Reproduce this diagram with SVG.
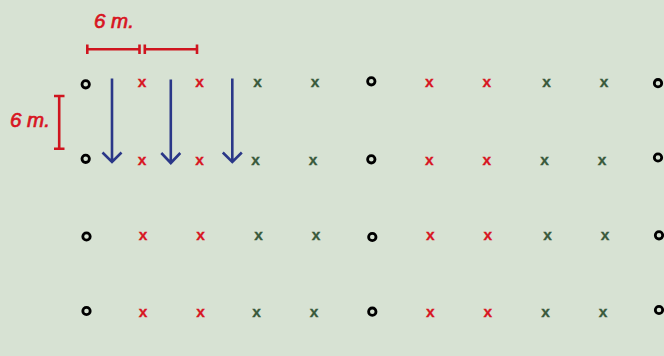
<svg xmlns="http://www.w3.org/2000/svg" width="664" height="356" viewBox="0 0 664 356">
<style>
.bg{fill:#d7e2d3}
.o{fill:none;stroke:#000;stroke-width:2.8}
text{font-family:"Liberation Sans",Arial,sans-serif;text-anchor:middle}
.r{fill:#d7141f;stroke:#d7141f}.g{fill:#38593a;stroke:#38593a}
.x{font-size:15.500px;font-weight:700;stroke-width:.3}
.lab{font-size:20.500px;font-style:italic;fill:#d7141f;stroke:#d7141f;stroke-width:.7;text-anchor:start}
.dim{stroke:#cf141e;stroke-width:2.600;fill:none}
.arr{stroke:#2a3788;stroke-width:2.600;fill:none}
</style>
<rect class="bg" width="664" height="356"/>
<g id="plants">
<circle class="o" cx="85.700" cy="84.300" r="3.700"/><circle class="o" cx="85.700" cy="158.800" r="3.700"/><circle class="o" cx="86.500" cy="236.500" r="3.700"/><circle class="o" cx="86.500" cy="311" r="3.700"/>
<circle class="o" cx="371.300" cy="81.300" r="3.700"/><circle class="o" cx="371.300" cy="159.300" r="3.700"/><circle class="o" cx="372.300" cy="237" r="3.700"/><circle class="o" cx="372.300" cy="311.700" r="3.700"/>
<circle class="o" cx="658" cy="83.200" r="3.700"/><circle class="o" cx="658" cy="157.500" r="3.700"/><circle class="o" cx="659" cy="235.300" r="3.700"/><circle class="o" cx="659" cy="310" r="3.700"/>
</g>
<g id="crosses" class="x">
<text class="r" x="142" y="87">x</text><text class="r" x="199.500" y="87">x</text><text class="g" x="257.500" y="87">x</text><text class="g" x="315" y="87">x</text>
<text class="r" x="142" y="164.500">x</text><text class="r" x="199.500" y="164.500">x</text><text class="g" x="255.500" y="164.500">x</text><text class="g" x="313" y="164.500">x</text>
<text class="r" x="143" y="239.500">x</text><text class="r" x="200.500" y="239.500">x</text><text class="g" x="258.500" y="239.500">x</text><text class="g" x="316" y="239.500">x</text>
<text class="r" x="143" y="317">x</text><text class="r" x="200.500" y="317">x</text><text class="g" x="256.500" y="317">x</text><text class="g" x="314" y="317">x</text>
<text class="r" x="429.300" y="87">x</text><text class="r" x="486.800" y="87">x</text><text class="g" x="546.500" y="87">x</text><text class="g" x="604" y="87">x</text>
<text class="r" x="429.300" y="164.500">x</text><text class="r" x="486.800" y="164.500">x</text><text class="g" x="544.500" y="164.500">x</text><text class="g" x="602" y="164.500">x</text>
<text class="r" x="430.300" y="239.500">x</text><text class="r" x="487.800" y="239.500">x</text><text class="g" x="547.500" y="239.500">x</text><text class="g" x="605" y="239.500">x</text>
<text class="r" x="430.300" y="316.500">x</text><text class="r" x="487.800" y="316.500">x</text><text class="g" x="545.500" y="316.500">x</text><text class="g" x="603" y="316.500">x</text>
</g>
<g id="connectors">
<path class="arr" d="M112 78.500V162M102.500 152.500L112 162L121.500 152.500"/>
<path class="arr" d="M170.800 79.500V163M161.300 153L170.800 163L180.300 153"/>
<path class="arr" d="M232.300 78.500V162M222.800 152.500L232.300 162L241.800 152.500"/>
</g>
<g id="dimensions">
<path class="dim" d="M87.300 44.500V54M87.300 49.300H139.500M139.500 44.500V54M144.800 44.500V54M144.800 49.300H197M197 44.500V54"/>
<path class="dim" d="M54 96H64.500M59.200 96V148.700M54 148.700H64.500"/>
</g>
<g id="labels">
<text class="lab" x="94" y="28">6 m.</text>
<text class="lab" x="10" y="127">6 m.</text>
</g>
</svg>
